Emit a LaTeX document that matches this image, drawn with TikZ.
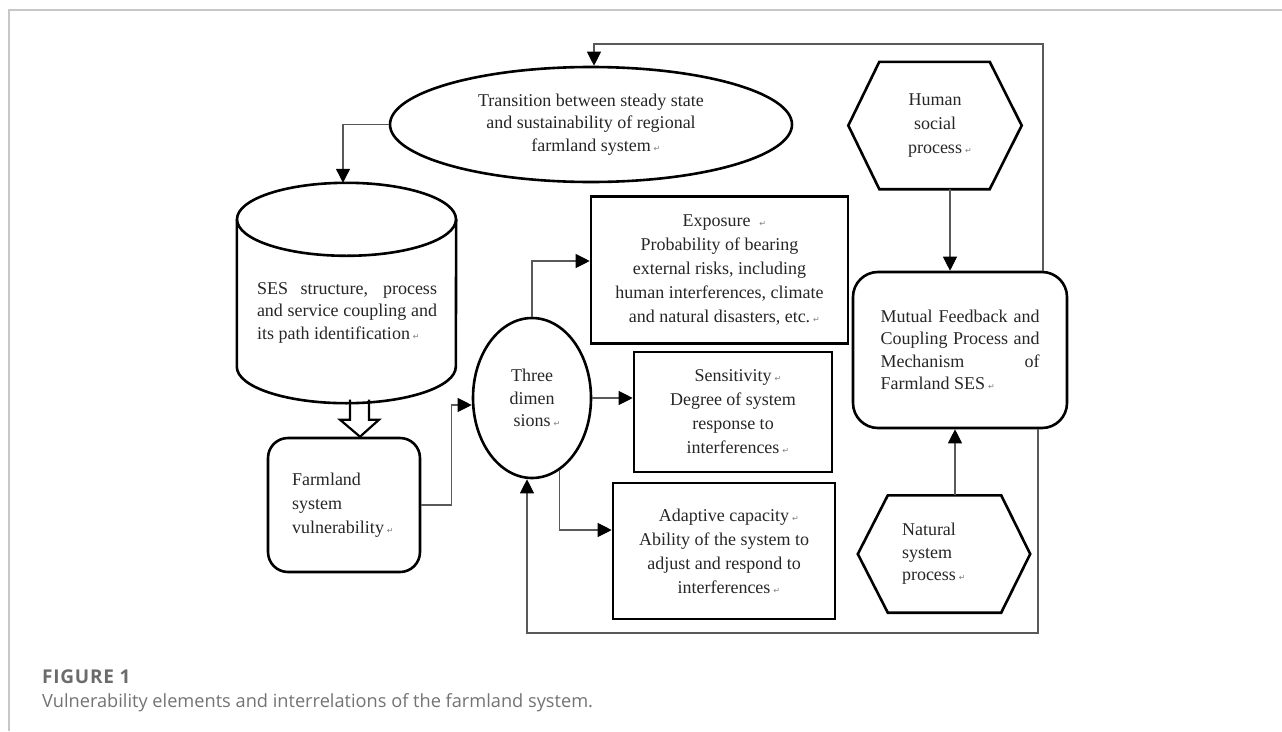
\documentclass[tikz,border=0pt]{standalone}
\usepackage{fontspec}
\setmainfont{Liberation Serif}
\newfontfamily\capfont{Open Sans}
\newfontfamily\capbold[LetterSpace=4]{Open Sans Bold}
\newfontfamily\markfont{DejaVu Sans}
\usetikzlibrary{shapes.geometric}
\usetikzlibrary{arrows.meta}
\usetikzlibrary{calc}

% paragraph mark and justified line
\newcommand{\pmk}{\rlap{\,\markfont\fontsize{8}{8}\selectfont\textcolor{black!50}{↵}}}
\newcommand{\jline}[2]{\makebox[#1pt][s]{#2}}

\begin{document}
\begin{tikzpicture}[x=1pt, y=-1pt,
    shapeline/.style={draw=black, line width=2.6pt},
    txt/.style={font=\fontsize{18}{22.5}\selectfont, text=black!85, inner sep=0pt},
    boxtxt/.style={txt, font=\fontsize{18}{24}\selectfont},
    conn/.style={draw=black!65, line width=1.1pt},
    arr/.style={-{Triangle[width=14pt,length=14pt,color=black,fill=black]}}]
    \useasboundingbox (0,0) rectangle (1282,731);

    % page frame
    \draw[black!22, line width=1.5pt] (9,731) -- (9,10) -- (1282,10);

    % top ellipse
    \node[ellipse, shapeline, minimum width=402pt, minimum height=115pt, txt, align=center] (trans) at (591,124.5)
        {Transition between steady state\\and sustainability of regional\\farmland system\pmk};

    % cylinder (drawn round an empty node)
    \node[minimum width=219pt, minimum height=220pt, inner sep=0pt] (ses) at (346.5,293) {};
    \draw[shapeline] ([yshift=-36.5pt]ses.north) ellipse [x radius=109.5pt, y radius=36.5pt];
    \draw[shapeline] ([yshift=-36.5pt]ses.north west) -- ([yshift=36.5pt]ses.south west)
        arc[start angle=180, end angle=360, x radius=109.5pt, y radius=36.5pt] -- ([yshift=-36.5pt]ses.north east);
    \node[txt, align=left] (sestext) at (347,312.5)
        {\jline{180}{SES structure, process}\\\jline{180}{and service coupling and}\\its path identification\pmk};

    \node[shapeline, rounded corners=20pt, minimum width=152pt, minimum height=134pt, boxtxt, text width=104pt, align=left] (farm) at (344,505)
        {Farmland\\system\\vulnerability\pmk};

    % hollow arrow
    \coordinate (hol) at ([xshift=16pt]farm.north);
    \draw[shapeline, line width=2.2pt, line join=miter] ($(hol)+(-10,-37)$) -- ++(0,20) -- ++(-10,0) -- (hol) -- ++(19,-17) -- ++(-10,0) -- ++(0,-20);

    \node[ellipse, shapeline, minimum width=118pt, minimum height=160pt, txt, align=center] (three) at (532,398)
        {Three\\dimen\\sions\pmk};

    % the three dimensions
    \node[shapeline, minimum width=257pt, minimum height=147pt, boxtxt, align=center] (expo) at (719.5,270)
        {Exposure\hspace{6pt}\pmk\\Probability of bearing\\external risks, including\\human interferences, climate\\and natural disasters, etc.\pmk};
    \node[shapeline, minimum width=198pt, minimum height=120pt, boxtxt, align=center] (sens) at (733,412)
        {Sensitivity\pmk\\Degree of system\\response to\\interferences\pmk};
    \node[shapeline, minimum width=222pt, minimum height=136pt, boxtxt, align=center] (adap) at (724,551)
        {Adaptive capacity\pmk\\Ability of the system to\\adjust and respond to\\interferences\pmk};

    % hexagons and coupling box
    \node[minimum width=173pt, minimum height=127pt, boxtxt, align=center] (human) at (935,125.5)
        {Human\\social\\process\pmk};
    \draw[shapeline] (human.west) -- ([xshift=31pt]human.north west) -- ([xshift=-32pt]human.north east)
        -- (human.east) -- ([xshift=-32pt]human.south east) -- ([xshift=31pt]human.south west) -- cycle;

    \node[shapeline, rounded corners=25pt, minimum width=214pt, minimum height=156pt, txt, align=left] (mutual) at (960,350)
        {\jline{159}{Mutual Feedback and}\\\jline{159}{Coupling Process and}\\\jline{159}{Mechanism of}\\Farmland SES\pmk};

    \node[minimum width=172pt, minimum height=117pt, txt, text width=84pt, align=left] (natural) at (944,554)
        {Natural\\system\\process\pmk};
    \draw[shapeline] (natural.west) -- ([xshift=30pt]natural.north west) -- ([xshift=-29pt]natural.north east)
        -- (natural.east) -- ([xshift=-29pt]natural.south east) -- ([xshift=30pt]natural.south west) -- cycle;

    % connectors
    \coordinate (fbtop) at (1043,44);
    \coordinate (fbbot) at (1038,633);
    \draw[conn, arr] (trans.west) -| ([xshift=-3.5pt]ses.north);
    \draw[conn, arr] ([xshift=83pt]mutual.north) -- (fbtop) -| ([xshift=3pt]trans.north);
    \draw[conn, arr] ([xshift=78pt]mutual.south) -- (fbbot) -| ([xshift=-5pt]three.south);
    \draw[conn, arr] (farm.east) -- ++(30,0) |- ([yshift=-7pt]three.west);
    \draw[conn, arr] (three.north) |- ([yshift=9pt]expo.west);
    \draw[conn, arr] (three.east) -- (three.east -| sens.west);
    \draw[conn, arr] (three.-69) |- ([yshift=21pt]adap.west);
    \draw[conn, arr] ([xshift=15pt]human.south) -- ([xshift=-10pt]mutual.north);
    \draw[conn, arr] ([xshift=11pt]natural.north) -- ([xshift=-5pt]mutual.south);

    % caption
    \node[anchor=base west, inner sep=0pt, font=\capbold\fontsize{19}{22}\selectfont, text=black!58] (fig) at (42,683) {FIGURE 1};
    \node[anchor=base west, inner sep=0pt, font=\capfont\fontsize{18.2}{22}\selectfont, text=black!55] (cap) at (42,707)
        {Vulnerability elements and interrelations of the farmland system.};
\end{tikzpicture}
\end{document}
